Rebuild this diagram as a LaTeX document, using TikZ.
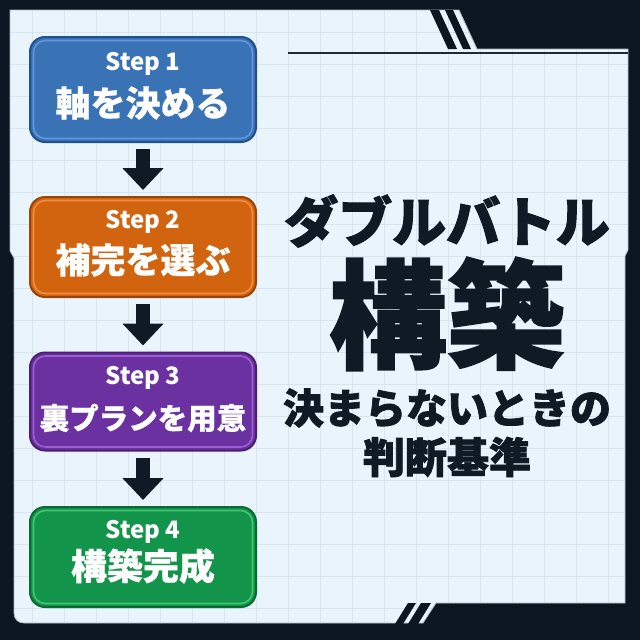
\documentclass[tikz,border=0pt]{standalone}
\usepackage{fontspec}
\setmainfont{Noto Sans CJK JP}
\newfontfamily\heavyjp{Noto Sans CJK JP}[FakeBold=1.8]
\newfontfamily\boxjp{Noto Sans CJK JP}[FakeBold=0.6]
\usetikzlibrary{arrows.meta}
\definecolor{bgdark}{HTML}{0B1620}
\definecolor{panelc}{HTML}{E9F4FC}
\definecolor{gridc}{HTML}{D8E5EF}
\definecolor{panelrim}{HTML}{A9B8C6}
\definecolor{inkc}{HTML}{101A24}
\definecolor{bluef}{HTML}{3A72B6}\definecolor{blueo}{HTML}{22508C}\definecolor{bluei}{HTML}{5C98DE}
\definecolor{orf}{HTML}{D3640F}\definecolor{oro}{HTML}{9A4508}\definecolor{ori}{HTML}{F28C40}
\definecolor{puf}{HTML}{6C31A0}\definecolor{puo}{HTML}{4A1E76}\definecolor{pui}{HTML}{9C5ECE}
\definecolor{grf}{HTML}{13944B}\definecolor{gro}{HTML}{0B6A33}\definecolor{gri}{HTML}{42C672}
\begin{document}
\begin{tikzpicture}[x=1pt,y=-1pt,
  stepbox/.style={rounded corners=15pt, line width=2pt, minimum width=226pt, inner sep=0pt},
  innerbox/.style={rounded corners=12pt, line width=1.6pt, minimum width=219pt, inner sep=0pt},
  steplbl/.style={text=white, inner sep=0pt, font=\bfseries\fontsize{24}{26}\selectfont},
  jplbl/.style={text=white, inner sep=0pt, font=\boxjp\bfseries\fontsize{35}{38}\selectfont},
  flow/.style={draw=inkc, line width=14pt, -{Triangle[width=40pt,length=22pt]}, shorten <=6pt, shorten >=6pt},
  title/.style={text=inkc, inner sep=0pt},
  gridline/.style={draw=gridc, line width=0.9pt}]
\useasboundingbox (0,0) rectangle (640,640);
\fill[bgdark] (0,0) rectangle (640,640);
% panel
\def\panelpath{(10,10) -- (459,10) -- (477,49) -- (628,49) -- (628,250) -- (625,256) -- (625,603) -- (436,603) -- (423,623) -- (24,623) .. controls (18,623) and (14,619) .. (14,613) -- (14,258) -- (10,251) -- cycle}
\fill[panelc] \panelpath;
\begin{scope}
\clip \panelpath;
\foreach \g in {32,64,...,608} {
  \draw[gridline] (\g,0) -- (\g,640);
  \draw[gridline] (0,\g) -- (640,\g);
}
\end{scope}
\draw[panelrim, line width=0.8pt] \panelpath;
% stripes
\fill[bgdark] (430,10) -- (439,10) -- (457,49) -- (448,49) -- cycle;
\fill[bgdark] (445,10) -- (453,10) -- (471,49) -- (463,49) -- cycle;
\fill[bgdark] (395,624) -- (403,624) -- (416,603) -- (408,603) -- cycle;
\fill[bgdark] (408,624) -- (418,624) -- (431,603) -- (421,603) -- cycle;
\draw[inkc!85!gray, line width=2pt] (288,53) -- (628,53);
% step boxes
\node[stepbox, fill=bluef, draw=blueo, minimum height=105pt] (s1) at (143,89.5) {};
\node[innerbox, draw=bluei, minimum height=98pt] (s1i) at (143,89.5) {};
\node[steplbl] (s1t) at (143,64) {Step 1};
\node[jplbl] (s1j) at (143,103) {軸を決める};
\node[stepbox, fill=orf, draw=oro, minimum height=100pt] (s2) at (143,247) {};
\node[innerbox, draw=ori, minimum height=93pt] (s2i) at (143,247) {};
\node[steplbl] (s2t) at (143,222) {Step 2};
\node[jplbl] (s2j) at (143,260) {補完を選ぶ};
\node[stepbox, fill=puf, draw=puo, minimum height=98pt] (s3) at (143,401.5) {};
\node[innerbox, draw=pui, minimum height=91pt] (s3i) at (143,401.5) {};
\node[steplbl] (s3t) at (143,378) {Step 3};
\node[jplbl, font=\boxjp\bfseries\fontsize{29.5}{32}\selectfont] (s3j) at (143,418) {裏プランを用意};
\node[stepbox, fill=grf, draw=gro, minimum height=100pt] (s4) at (143,557) {};
\node[innerbox, draw=gri, minimum height=93pt] (s4i) at (143,557) {};
\node[steplbl] (s4t) at (143,532) {Step 4};
\node[jplbl, font=\boxjp\bfseries\fontsize{36}{38}\selectfont] (s4j) at (143,566) {構築完成};
% arrows
\draw[flow] (s1) -- (s2);
\draw[flow] (s2) -- (s3);
\draw[flow] (s3) -- (s4);
% title
\node[title, font=\heavyjp\bfseries\fontsize{54}{58}\selectfont] (t1) at (447,221) {ダブルバトル};
\node[title, font=\heavyjp\bfseries\fontsize{118}{120}\selectfont] (t2) at (447,314) {構築};
\node[title, font=\heavyjp\bfseries\fontsize{41}{44}\selectfont] (t3) at (447,408) {決まらないときの};
\node[title, font=\heavyjp\bfseries\fontsize{42}{44}\selectfont] (t4) at (447,457) {判断基準};
\end{tikzpicture}
\end{document}
